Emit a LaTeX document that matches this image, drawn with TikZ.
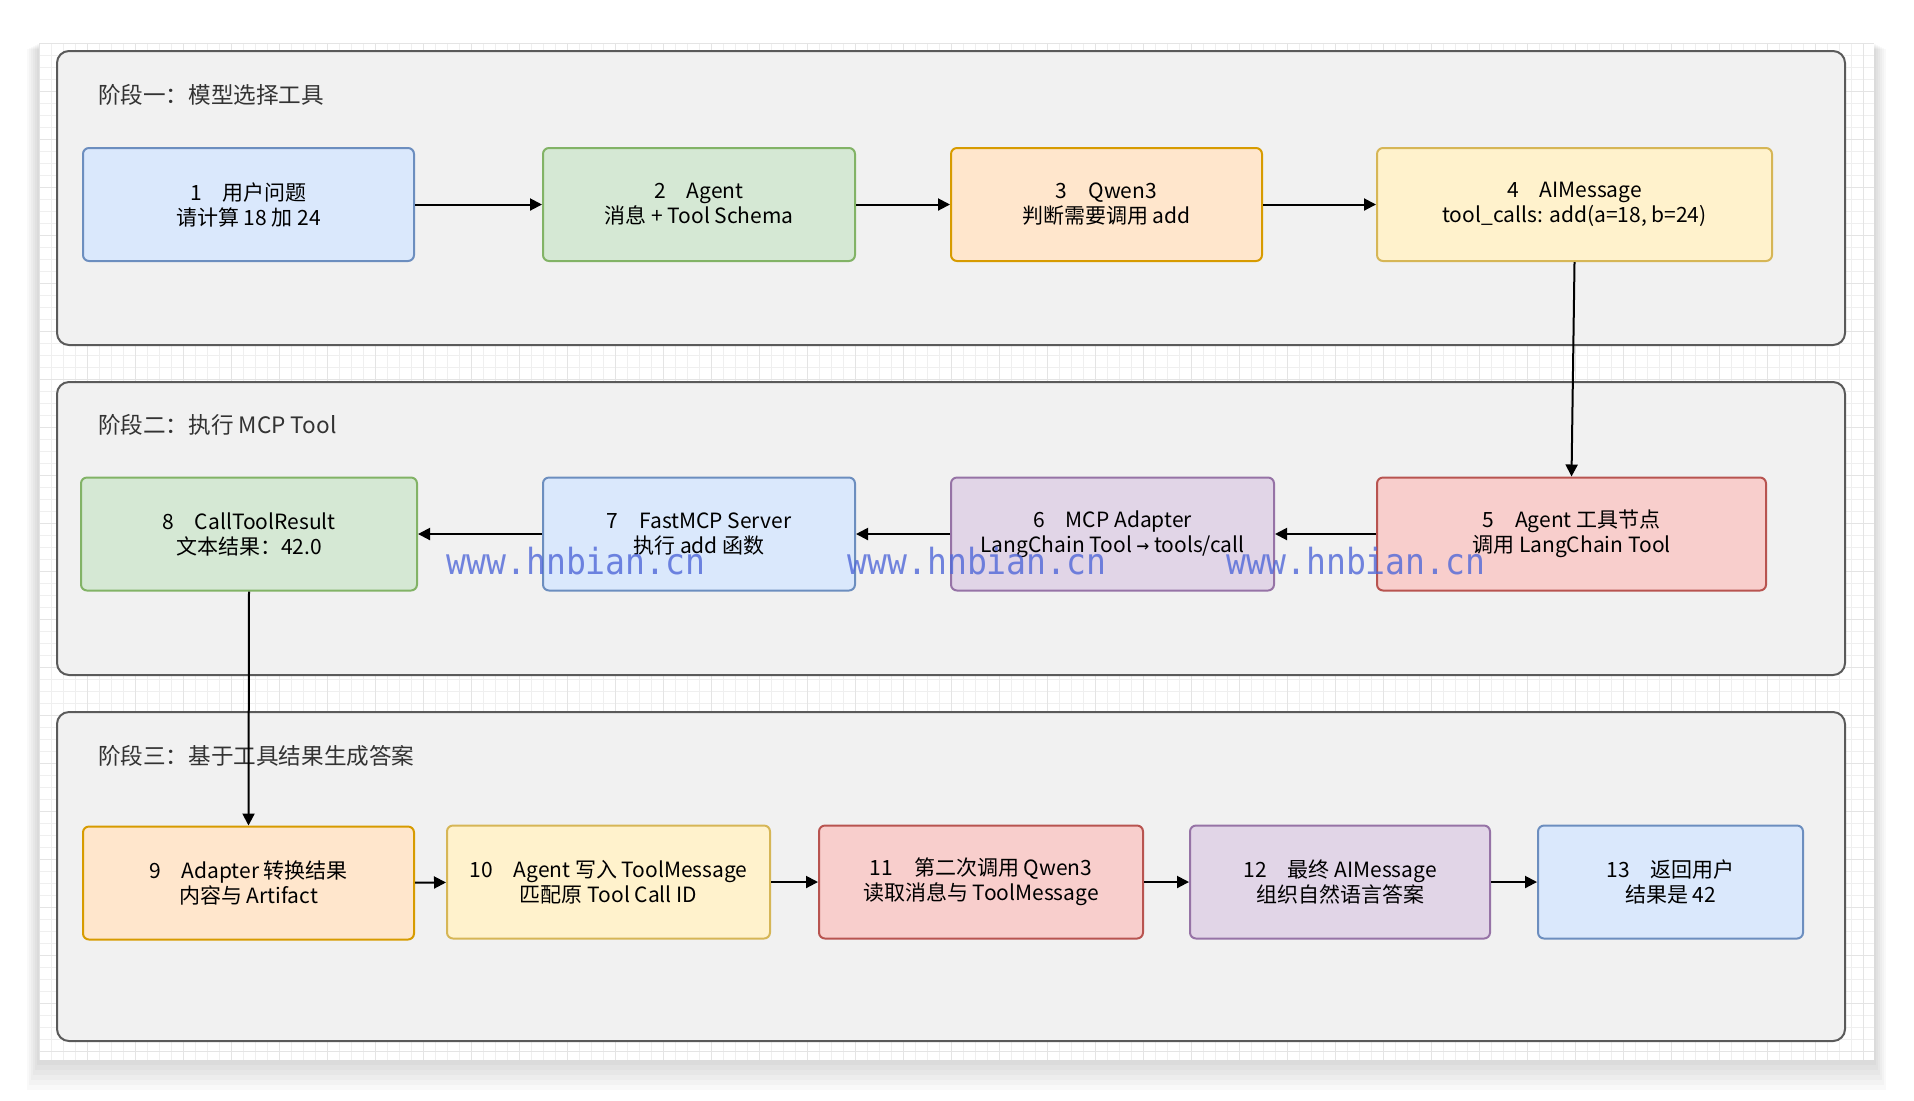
\documentclass[tikz,border=0pt]{standalone}
\usepackage{fontspec}
\setmainfont{Noto Sans CJK SC}
\newfontfamily\wmfont{DejaVu Sans Mono}
\usetikzlibrary{arrows.meta}
\definecolor{blueF}{HTML}{DAE8FC}\definecolor{blueD}{HTML}{6C8EBF}
\definecolor{greenF}{HTML}{D5E8D4}\definecolor{greenD}{HTML}{82B366}
\definecolor{orangeF}{HTML}{FFE6CC}\definecolor{orangeD}{HTML}{D79B00}
\definecolor{yellowF}{HTML}{FFF2CC}\definecolor{yellowD}{HTML}{D6B656}
\definecolor{redF}{HTML}{F8CECC}\definecolor{redD}{HTML}{B85450}
\definecolor{purpleF}{HTML}{E1D5E7}\definecolor{purpleD}{HTML}{9673A6}
\definecolor{panelF}{HTML}{F1F1F1}\definecolor{panelD}{HTML}{5A5A5A}
\definecolor{gridC}{HTML}{E4E4E4}\definecolor{wmC}{HTML}{5068D8}
\begin{document}
\begin{tikzpicture}
		[x=0.5pt,y=-0.5pt,
			panel/.style={draw=panelD,fill=panelF,line width=1pt,rounded corners=6pt},
			title/.style={anchor=west,text=black!80,font=\fontsize{11.3}{13}\selectfont},
			stepbox/.style={rounded corners=3pt,line width=1pt,minimum height=56.5pt,align=center,inner sep=2pt,font=\fontsize{10.5}{12.5}\selectfont},
			bluebox/.style={stepbox,draw=blueD,fill=blueF},
			greenbox/.style={stepbox,draw=greenD,fill=greenF},
			orangebox/.style={stepbox,draw=orangeD,fill=orangeF},
			yellowbox/.style={stepbox,draw=yellowD,fill=yellowF},
			redbox/.style={stepbox,draw=redD,fill=redF},
			purplebox/.style={stepbox,draw=purpleD,fill=purpleF},
			flow/.style={-{Triangle[length=6pt,width=6pt]},line width=1pt},
			wmark/.style={text=wmC,opacity=0.8,xscale=0.92,font=\wmfont\fontsize{18}{18}\selectfont}]
	% canvas
	\useasboundingbox (0,0) rectangle (1914,1100);
	\fill[white] (0,0) rectangle (1914,1100);
	\foreach \i in {1,...,6}
	{
		\fill[black,opacity=0.025] (39-2*\i,43+\i) rectangle (1874+2*\i,1060+5*\i);
	}
	\fill[white] (39,43) rectangle (1874,1060);
	\foreach \gx in {39,51,...,1874}
	{
		\draw[gridC!60,line width=0.3pt] (\gx,43) -- (\gx,1060);
	}
	\foreach \gy in {43,55,...,1060}
	{
		\draw[gridC!60,line width=0.3pt] (39,\gy) -- (1874,\gy);
	}
	\foreach \gx in {39,87,...,1874}
	{
		\draw[gridC,line width=0.4pt] (\gx,43) -- (\gx,1060);
	}
	\foreach \gy in {43,91,...,1060}
	{
		\draw[gridC,line width=0.4pt] (39,\gy) -- (1874,\gy);
	}
	% stages
	\draw[panel] (57,51) rectangle (1845,345);
	\draw[panel] (57,382) rectangle (1845,675);
	\draw[panel] (57,712) rectangle (1845,1041);
	\node[title] (t1) at (91,95) {阶段一：模型选择工具};
	\node[title] (t2) at (91,425) {阶段二：执行 MCP Tool};
	\node[title] (t3) at (91,756) {阶段三：基于工具结果生成答案};
	% row 1
	\node[bluebox,minimum width=165.5pt] (s1) at (248.5,204.5) {1\quad 用户问题\\请计算 18 加 24};
	\node[greenbox,minimum width=156pt] (s2) at (699,204.5) {2\quad Agent\\消息 + Tool Schema};
	\node[orangebox,minimum width=155.5pt] (s3) at (1106.5,204.5) {3\quad Qwen3\\判断需要调用 add};
	\node[yellowbox,minimum width=197.5pt] (s4) at (1574.5,204.5) {4\quad AIMessage\\tool\_calls: add(a=18, b=24)};
	% row 2
	\node[redbox,minimum width=194.5pt] (s5) at (1571.5,534) {5\quad Agent 工具节点\\调用 LangChain Tool};
	\node[purplebox,minimum width=161.5pt] (s6) at (1112.5,534) {6\quad MCP Adapter\\LangChain Tool {\wmfont →} tools/call};
	\node[bluebox,minimum width=156pt] (s7) at (699,534) {7\quad FastMCP Server\\执行 add 函数};
	\node[greenbox,minimum width=168pt] (s8) at (249,534) {8\quad CallToolResult\\文本结果：42.0};
	% row 3
	\node[orangebox,minimum width=165.5pt] (s9) at (248.5,883) {9\quad Adapter 转换结果\\内容与 Artifact};
	\node[yellowbox,minimum width=161.5pt] (s10) at (608.5,882) {10\quad Agent 写入 ToolMessage\\匹配原 Tool Call ID};
	\node[redbox,minimum width=162pt] (s11) at (981,882) {11\quad 第二次调用 Qwen3\\读取消息与 ToolMessage};
	\node[purplebox,minimum width=150pt] (s12) at (1340,882) {12\quad 最终 AIMessage\\组织自然语言答案};
	\node[bluebox,minimum width=132.5pt] (s13) at (1670.5,882) {13\quad 返回用户\\结果是 42};
	% connectors
	\draw[flow] (s1) -- (s2);
	\draw[flow] (s2) -- (s3);
	\draw[flow] (s3) -- (s4);
	\draw[flow] (s4.south) -- (s5.north);
	\draw[flow] (s5) -- (s6);
	\draw[flow] (s6) -- (s7);
	\draw[flow] (s7) -- (s8);
	\draw[flow] (s8.south) -- (s9.north);
	\draw[flow] (s9) -- (s10);
	\draw[flow] (s10) -- (s11);
	\draw[flow] (s11) -- (s12);
	\draw[flow] (s12) -- (s13);
	% watermark
	\node[wmark] (w1) at (576,561) {www.hnbian.cn};
	\node[wmark] (w2) at (977,561) {www.hnbian.cn};
	\node[wmark] (w3) at (1356,561) {www.hnbian.cn};
\end{tikzpicture}
\end{document}
